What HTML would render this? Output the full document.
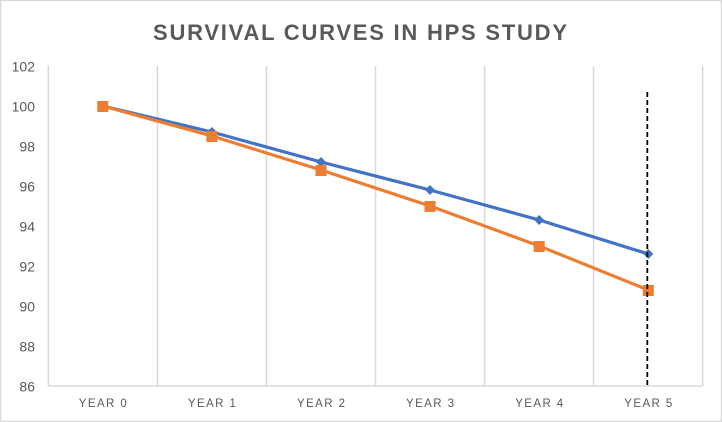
<!DOCTYPE html>
<html><head><meta charset="utf-8"><style>
html,body{margin:0;padding:0;background:#fff;}
svg{display:block;}
text{font-family:"Liberation Sans",sans-serif;}
</style></head><body>
<svg width="722" height="422" viewBox="0 0 722 422" xmlns="http://www.w3.org/2000/svg">
<rect x="0.5" y="0.5" width="721" height="421" fill="#fff" stroke="#d9d9d9" stroke-width="1.5"/>
<text x="360" y="40" text-anchor="middle" font-size="22" font-weight="bold" fill="#595959" textLength="414" lengthAdjust="spacing">SURVIVAL CURVES IN HPS STUDY</text>
<g stroke="#d9d9d9" stroke-width="1.5">
<line x1="48.3" y1="66" x2="48.3" y2="386"/>
<line x1="157.4" y1="66" x2="157.4" y2="386"/>
<line x1="266.4" y1="66" x2="266.4" y2="386"/>
<line x1="375.5" y1="66" x2="375.5" y2="386"/>
<line x1="484.6" y1="66" x2="484.6" y2="386"/>
<line x1="593.6" y1="66" x2="593.6" y2="386"/>
<line x1="702.7" y1="66" x2="702.7" y2="386"/>
<line x1="48.3" y1="386" x2="702.7" y2="386"/>
</g>
<g font-size="14" fill="#595959" text-anchor="end">
<text x="35" y="71.5">102</text>
<text x="35" y="111.5">100</text>
<text x="35" y="151.5">98</text>
<text x="35" y="191.5">96</text>
<text x="35" y="231.5">94</text>
<text x="35" y="271.5">92</text>
<text x="35" y="311.5">90</text>
<text x="35" y="351.5">88</text>
<text x="35" y="391.5">86</text>
</g>
<g font-size="11.5" fill="#595959" text-anchor="middle">
<text x="102.8" y="407" textLength="48" lengthAdjust="spacing">YEAR 0</text>
<text x="211.9" y="407" textLength="48" lengthAdjust="spacing">YEAR 1</text>
<text x="321" y="407" textLength="48" lengthAdjust="spacing">YEAR 2</text>
<text x="430" y="407" textLength="48" lengthAdjust="spacing">YEAR 3</text>
<text x="539.2" y="407" textLength="48" lengthAdjust="spacing">YEAR 4</text>
<text x="648.3" y="407" textLength="48" lengthAdjust="spacing">YEAR 5</text>
</g>
<polyline fill="none" stroke="#4472C4" stroke-width="3.2" stroke-linejoin="round" points="102.8,106 211.9,132 321,162 430,190 539.2,220 648.3,254"/>
<g fill="#4472C4">
<polygon points="102.8,101 107.8,106 102.8,111 97.8,106"/>
<polygon points="211.9,127 216.9,132 211.9,137 206.9,132"/>
<polygon points="321,157 326,162 321,167 316,162"/>
<polygon points="430,185 435,190 430,195 425,190"/>
<polygon points="539.2,215 544.2,220 539.2,225 534.2,220"/>
<polygon points="648.3,249 653.3,254 648.3,259 643.3,254"/>
</g>
<polyline fill="none" stroke="#ED7D31" stroke-width="3.2" stroke-linejoin="round" points="102.8,106 211.9,136 321,170 430,206 539.2,246 648.3,290"/>
<g fill="#ED7D31">
<rect x="97.3" y="101" width="11" height="11"/>
<rect x="206.4" y="131" width="11" height="11"/>
<rect x="315.5" y="165" width="11" height="11"/>
<rect x="424.5" y="201" width="11" height="11"/>
<rect x="533.7" y="241" width="11" height="11"/>
<rect x="642.8" y="285" width="11" height="11"/>
</g>
<line x1="647.3" y1="92" x2="647.3" y2="386" stroke="#000" stroke-width="1.8" stroke-dasharray="5,3"/>
</svg>
</body></html>
